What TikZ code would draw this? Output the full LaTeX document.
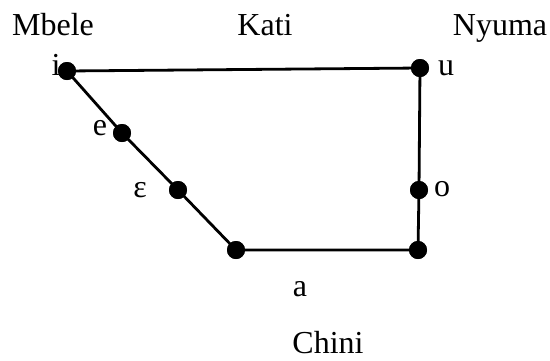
\documentclass[tikz,border=0pt]{standalone}
\usepackage{fontspec}
\setmainfont{Liberation Serif}
\usepackage{tikz}
\usetikzlibrary{positioning}

\begin{document}
\begin{tikzpicture}[x=1pt, y=-1pt,
  vowel/.style={circle, fill=black, inner sep=0pt, minimum size=18pt},
  edge/.style={draw=black, line width=2.8pt},
  lbl/.style={anchor=base, inner sep=0pt, text depth=0pt, font=\fontsize{32}{38}\selectfont}
]
\useasboundingbox (0,0) rectangle (550,360);
% vowel points
\node[vowel] (i) at (67,71) {};
\node[vowel] (u) at (420,68) {};
\node[vowel] (e) at (122,133) {};
\node[vowel] (eps) at (178,190) {};
\node[vowel] (aL) at (236,250) {};
\node[vowel] (aR) at (418,250) {};
\node[vowel] (o) at (419,190) {};
% trapezium
\draw[edge] (i.center) -- (u.center) -- (o.center) -- (aR.center) -- (aL.center) -- (eps.center) -- (e.center) -- (i.center);
\foreach \x in {i,u,e,eps,aL,aR,o} \node[vowel] at (\x) {};
% letters
\node[lbl] (li) at (56,75) {i};
\node[lbl] (lu) at (446,75) {u};
\node[lbl] (le) at (100,135) {e};
\node[lbl] (leps) at (140,197) {ε};
\node[lbl] (lo) at (442,196) {o};
\node[lbl] (la) at (300,296) {a};
% headings
\node[lbl] (mbele) at (53,35) {Mbele};
\node[lbl] (kati) at (265,35) {Kati};
\node[lbl] (nyuma) at (500,35) {Nyuma};
\node[lbl] (chini) at (328,353) {Chini};
\end{tikzpicture}
\end{document}
